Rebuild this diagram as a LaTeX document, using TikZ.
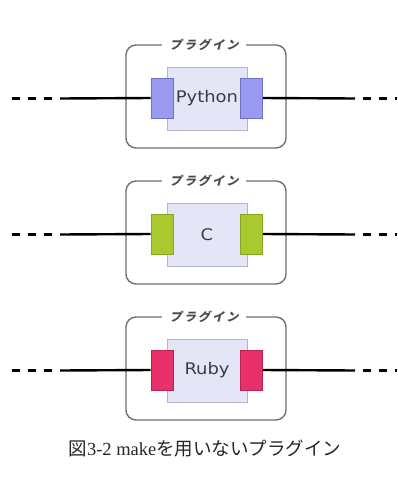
\documentclass[tikz,border=0pt]{standalone}
\usepackage{fontspec}
\setmainfont{Liberation Serif}
\newfontfamily\jpfont{Noto Sans CJK JP}
\newfontfamily\jptag[FakeSlant=0.25,LetterSpace=18]{Noto Sans CJK JP}
\newfontfamily\langfont[FakeStretch=1.12]{DejaVu Sans}
\definecolor{outerline}{HTML}{707070}
\definecolor{innerfill}{HTML}{E5E5F8}
\definecolor{innerline}{HTML}{B4B4C8}
\definecolor{tagtext}{HTML}{4A4A4A}
\definecolor{langtext}{HTML}{3A3A4A}
\definecolor{pyfill}{HTML}{9A9AF0}
\definecolor{pyline}{HTML}{7070C8}
\definecolor{cfill}{HTML}{A9C92F}
\definecolor{cline}{HTML}{88A622}
\definecolor{rbfill}{HTML}{E8306A}
\definecolor{rbline}{HTML}{B8244F}
\tikzset{
  plugin/.style={draw=outerline, line width=1.4pt, rounded corners=10pt,
    fill=white, minimum width=160pt, minimum height=103pt, inner sep=0pt},
  tag/.style={fill=white, text=tagtext, inner xsep=8pt, inner ysep=1pt,
    font=\fontsize{12}{13}\jptag\bfseries},
  core/.style={draw=innerline, line width=0.8pt, fill=innerfill,
    minimum width=80pt, minimum height=63pt, inner sep=0pt,
    text=langtext, font=\fontsize{16}{18}\langfont},
  port/.style={line width=0.8pt, minimum width=22pt, minimum height=40pt,
    inner sep=0pt},
  wire/.style={line width=2.4pt, black},
  wiredash/.style={line width=2.8pt, black, dash pattern=on 8pt off 8pt}
}
\begin{document}
\begin{tikzpicture}[x=1pt,y=-1pt]
\useasboundingbox (0,0) rectangle (397,488);
\foreach \id/\lang/\pfill/\pline/\dy in
  {py/Python/pyfill/pyline/0, c/C/cfill/cline/136, rb/Ruby/rbfill/rbline/272}{
  % plugin frame with its caption sitting on the top edge
  \node[plugin] (\id-frame) at (206,96.5+\dy) {};
  \node[tag] (\id-tag) at (204,45+\dy) {プラグイン};
  % connectors in and out of the plugin
  \coordinate (\id-lfar) at (12,98.5+\dy);
  \coordinate (\id-lnear) at (60,98.5+\dy);
  \coordinate (\id-rnear) at (355,98.5+\dy);
  \coordinate (\id-rfar) at (397,98.5+\dy);
  \node[core] (\id-core) at (207,98.5+\dy) {\lang};
  \node[port, fill=\pfill, draw=\pline] (\id-inport) at (162,98+\dy) {};
  \node[port, fill=\pfill, draw=\pline] (\id-outport) at (251.5,98+\dy) {};
  \draw[wiredash] (\id-lfar) -- (\id-lnear);
  \draw[wire] (\id-lnear) -- (\id-inport.west);
  \draw[wire] (\id-outport.east) -- (\id-rnear);
  \draw[wiredash, dash phase=8pt] (\id-rnear) -- (\id-rfar);
}
\node[font=\fontsize{18.5}{20}\selectfont, text=black!85] (caption) at (205,449)
  {{\jpfont 図}3-2 make{\jpfont を用いないプラグイン}};
\end{tikzpicture}
\end{document}
